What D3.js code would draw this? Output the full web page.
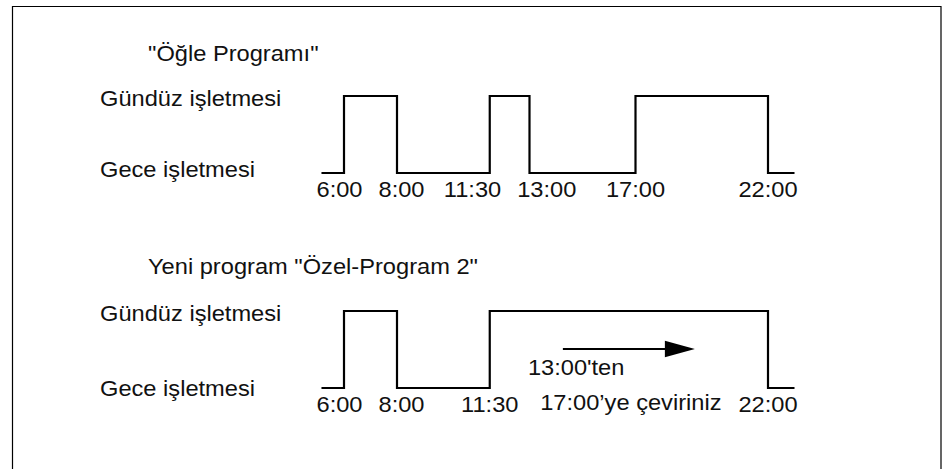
<!DOCTYPE html>
<html>
<head>
<meta charset="utf-8">
<script src="https://cdn.jsdelivr.net/npm/d3@7"></script>
<style>
  html, body { margin: 0; padding: 0; background: #fff; }
  svg { display: block; }
  text { font-family: "Liberation Sans", Arial, Helvetica, sans-serif; fill: #111; }
</style>
</head>
<body>
<svg></svg>
<script>
// data
const panelTitles = ['"Öğle Programı"', 'Yeni program "Özel-Program 2"'];
const stateLabels = ['Gündüz işletmesi', 'Gece işletmesi'];

// hours where the state flips (starts at night = 0)
const ogleSwitches = [6, 8, 11.5, 13, 17, 22];
const ogleTicks = ['6:00', '8:00', '11:30', '13:00', '17:00', '22:00'];
const ozelSwitches = [6, 8, 11.5, 22];
const ozelTicks = ['6:00', '8:00', '11:30', '22:00'];

const dayStart = 5.15; // where the drawn line begins / ends
const dayEnd = 23;

const noteLines = ["13:00'ten", '17:00’ye çeviriniz'];

// layout
const W = 949, H = 469;
const fontSize = 21.5, stretch = 1.1; // text in the picture is a bit wide

const svg = d3.select('svg').attr('width', W).attr('height', H);

// frame (open at the bottom)
svg.append('path')
  .attr('d', `M12.5,${H} V6.5 H941 V${H}`)
  .attr('fill', 'none')
  .attr('stroke', '#000')
  .attr('stroke-width', 1.2);

const x = d3.scaleLinear().domain([6, 22]).range([344, 768]);

function addText(g, str, tx, ty, anchor) {
  return g.append('text')
    .attr('transform', `translate(${tx},${ty}) scale(${stretch},1)`)
    .attr('text-anchor', anchor || 'start')
    .attr('font-size', fontSize)
    .text(str);
}

const panels = [
  { title: panelTitles[0], switches: ogleSwitches, ticks: ogleTicks, top: 96, titleDy: -35, nightDy: 81 },
  { title: panelTitles[1], switches: ozelSwitches, ticks: ozelTicks, top: 311, titleDy: -37.5, nightDy: 85, note: true },
];

panels.forEach((p) => {
  const g = svg.append('g');
  const y = d3.scaleLinear().domain([0, 1]).range([p.top + 77, p.top]);

  addText(g, p.title, 148, p.top + p.titleDy);
  addText(g, stateLabels[0], 100, p.top + 10.3);
  addText(g, stateLabels[1], 100, p.top + p.nightDy);

  // step series: state toggles at each switch time
  const pts = [[dayStart, 0]];
  p.switches.forEach((t, i) => pts.push([t, (i + 1) % 2]));
  pts.push([dayEnd, 0]);

  const line = d3.line()
    .x((d) => x(d[0]))
    .y((d) => y(d[1]))
    .curve(d3.curveStepAfter);

  g.append('path')
    .datum(pts)
    .attr('d', line)
    .attr('fill', 'none')
    .attr('stroke', '#000')
    .attr('stroke-width', 2.2)
    .attr('stroke-linejoin', 'miter');

  // tick labels, nudged apart when they collide
  const labels = p.ticks.map((s, i) =>
    addText(g, s, x(p.switches[i]), p.top + 101, 'middle'));
  const pos = p.switches.map((t) => x(t));
  const wid = labels.map((l) => l.node().getComputedTextLength() * stretch);
  for (let k = 0; k < 30; k++) {
    for (let i = 0; i < pos.length - 1; i++) {
      const gap = (pos[i + 1] - wid[i + 1] / 2) - (pos[i] + wid[i] / 2);
      if (gap < 16) {
        pos[i] -= (16 - gap) / 2;
        pos[i + 1] += (16 - gap) / 2;
      }
    }
  }
  labels.forEach((l, i) =>
    l.attr('transform', `translate(${pos[i]},${p.top + 101}) scale(${stretch},1)`));

  if (p.note) {
    // arrow in the middle of the merged day block
    const n = p.switches.length;
    const mid = (x(p.switches[n - 2]) + x(p.switches[n - 1])) / 2;
    const ay = p.top + 38;
    g.append('line')
      .attr('x1', mid - 66).attr('x2', mid + 40)
      .attr('y1', ay).attr('y2', ay)
      .attr('stroke', '#000')
      .attr('stroke-width', 2.2);
    g.append('polygon')
      .attr('points', `${mid + 36},${ay - 8.3} ${mid + 66},${ay} ${mid + 36},${ay + 8.3}`)
      .attr('fill', '#000');

    addText(g, noteLines[0], mid - 101, p.top + 64);
    addText(g, noteLines[1], mid + 2, p.top + 99, 'middle');
  }
});
</script>
</body>
</html>
